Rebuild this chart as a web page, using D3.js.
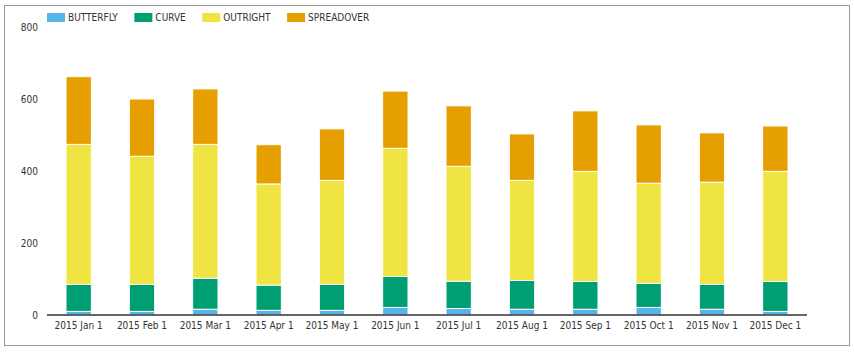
<!DOCTYPE html>
<html>
<head>
<meta charset="utf-8">
<script src="https://cdn.jsdelivr.net/npm/d3@7"></script>
<style>
  html, body { margin: 0; padding: 0; background: #fff; }
  svg { display: block; }
  text { font-family: "DejaVu Sans Condensed", "DejaVu Sans", sans-serif; font-stretch: condensed; }
</style>
</head>
<body>
<svg id="chart" width="854" height="352"></svg>
<script>
const categories = ["2015 Jan 1","2015 Feb 1","2015 Mar 1","2015 Apr 1","2015 May 1","2015 Jun 1",
                    "2015 Jul 1","2015 Aug 1","2015 Sep 1","2015 Oct 1","2015 Nov 1","2015 Dec 1"];
const seriesNames = ["BUTTERFLY","CURVE","OUTRIGHT","SPREADOVER"];
const butterfly  = [10, 10, 16, 13, 13, 21, 18, 16, 16, 21, 16, 10];
const curve      = [75, 75, 86, 70, 72, 86, 76, 80, 77, 67, 69, 83];
const outright   = [389, 356, 372, 281, 289, 356, 319, 278, 306, 278, 284, 306];
const spreadover = [188, 159, 154, 109, 143, 159, 168, 129, 168, 162, 137, 126];
const yTicks = [0, 200, 400, 600, 800];
const colors = ["#56B4E9", "#009E73", "#F0E442", "#E69F00"];

(function () {
const seriesValues = [butterfly, curve, outright, spreadover];
const table = categories.map((c, i) => {
  const row = { cat: c };
  seriesNames.forEach((s, j) => row[s] = seriesValues[j][i]);
  return row;
});

const svg = d3.select("#chart");
const mLeft = 47, mRight = 807, mTop = 27, mBottom = 315;
const fam = '"DejaVu Sans Condensed", "DejaVu Sans", sans-serif';

// border
svg.append("rect").attr("x", 4.5).attr("y", 5.5).attr("width", 845).attr("height", 340)
  .attr("fill", "none").attr("stroke", "#999").attr("stroke-width", 1);

const x = d3.scaleBand().domain(categories).range([mLeft, mRight]).paddingInner(0.6).paddingOuter(0.3);
const y = d3.scaleLinear().domain([0, 800]).range([mBottom, mTop]);
const color = d3.scaleOrdinal().domain(seriesNames).range(colors);

const stack = d3.stack().keys(seriesNames)(table);

svg.append("g").selectAll("g").data(stack).join("g")
  .attr("fill", d => color(d.key))
  .selectAll("rect").data(d => d).join("rect")
  .attr("x", d => x(d.data.cat))
  .attr("width", x.bandwidth())
  .attr("y", d => y(d[1]))
  .attr("height", d => y(d[0]) - y(d[1]))
  .attr("stroke", "#fff").attr("stroke-width", 1);

// y axis labels
const yAxis = svg.append("g").attr("transform", `translate(${mLeft},0)`)
  .call(d3.axisLeft(y).tickValues(yTicks).tickSize(0).tickPadding(9).tickFormat(d3.format("d")));
yAxis.select(".domain").remove();
yAxis.selectAll("text").attr("font-size", 10).attr("fill", "#333").style("font-family", fam);

// x axis
const xAxis = svg.append("g").attr("transform", `translate(0,${mBottom})`)
  .call(d3.axisBottom(x).tickSize(0).tickPadding(7).tickSizeOuter(0));
xAxis.select(".domain").attr("stroke", "#333").attr("stroke-width", 1.5)
  .attr("d", `M${mLeft},0H${mRight}`);
xAxis.selectAll("text").attr("font-size", 10).attr("fill", "#333").style("font-family", fam);

// legend
const legend = svg.append("g").attr("transform", "translate(47,13)");
let lx = 0;
seriesNames.forEach((s) => {
  const g = legend.append("g").attr("transform", `translate(${lx},0)`);
  g.append("rect").attr("width", 18).attr("height", 9).attr("fill", color(s));
  const t = g.append("text").attr("x", 21).attr("y", 4.5).attr("dy", "0.35em")
    .attr("font-size", 10).attr("fill", "#333").style("font-family", fam).text(s);
  lx += 21 + t.node().getComputedTextLength() + 16.5;
});
})();
</script>
</body>
</html>
